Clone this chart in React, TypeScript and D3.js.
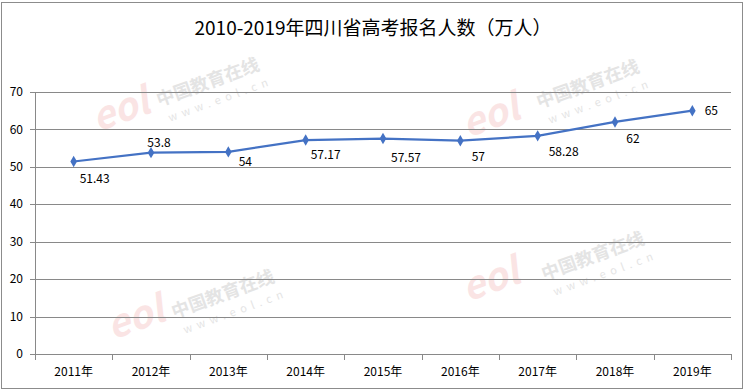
import * as d3 from 'd3'
import React from "react";

const years = ['2011年', '2012年', '2013年', '2014年', '2015年', '2016年', '2017年', '2018年', '2019年'];
const applicants = [51.43, 53.8, 54, 57.17, 57.57, 57, 58.28, 62, 65];
const yTicks = [0, 10, 20, 30, 40, 50, 60, 70];

// label offsets from each point, as placed in the original
const labelShift: [number, number][] = [
    [21, 17], [8, -10], [17, 10], [20, 15], [23, 19], [18, 16], [26, 16], [18, 17], [19, 0],
];

const W = 748;
const H = 391;
const FONT = '"Noto Sans CJK SC", "Noto Sans", sans-serif';

const App: React.FC = () => {
    const left = 35, right = 731, top = 92, bottom = 354;

    const x = d3.scaleBand<string>().domain(years).range([left, right]);
    const y = d3.scaleLinear().domain([0, 70]).range([bottom, top]);

    const line = d3.line<number>()
        .x((_, i) => (x(years[i]) as number) + x.bandwidth() / 2)
        .y(d => y(d));

    const diamond = d3.symbol().type(d3.symbolDiamond).size(38)();

    const marks = [
        { wx: 210, wy: 88, lx: 125, ly: 122 },
        { wx: 590, wy: 90, lx: 495, ly: 128 },
        { wx: 595, wy: 262, lx: 495, ly: 292 },
        { wx: 225, wy: 300, lx: 140, ly: 330 },
    ];

    return (
        <svg width={W} height={H} style={{ position: 'absolute', left: 0, top: 0, fontFamily: FONT }}>
            <rect x={0} y={0} width={W} height={H} fill="#fff" />
            <rect x={1.5} y={2.5} width={741} height={386} fill="none" stroke="#8c8c8c" strokeWidth={1} />

            {/* faint watermark */}
            {marks.map((m, i) => (
                <g key={i}>
                    <text x={m.lx} y={m.ly} fontSize={38} fontStyle="italic" fontWeight="bold" opacity={0.3}
                        fill="#f0a8a8" transform={`rotate(-20 ${m.lx} ${m.ly})`} textAnchor="middle">eol</text>
                    <text x={m.wx} y={m.wy} fontSize={18} fontWeight="bold" fill="#e4e4e4"
                        transform={`rotate(-20 ${m.wx} ${m.wy})`} textAnchor="middle">中国教育在线</text>
                    <text x={m.wx + 6} y={m.wy + 18} fontSize={11} fill="#e4e4e4" letterSpacing={5}
                        transform={`rotate(-20 ${m.wx} ${m.wy})`} textAnchor="middle">www.eol.cn</text>
                </g>
            ))}

            <text x={373} y={35} textAnchor="middle" fontSize={19} fill="#000">
                2010-2019年四川省高考报名人数（万人）
            </text>

            {yTicks.map(t => (
                <g key={t}>
                    <line x1={left} x2={right} y1={Math.round(y(t)) + 0.5} y2={Math.round(y(t)) + 0.5}
                        stroke="#898989" strokeWidth={1} />
                    <line x1={left - 5} x2={left} y1={Math.round(y(t)) + 0.5} y2={Math.round(y(t)) + 0.5}
                        stroke="#898989" />
                    <text x={23} y={y(t)} dy="0.35em" textAnchor="end" fontSize={12} fill="#000">{t}</text>
                </g>
            ))}
            <line x1={left + 0.5} x2={left + 0.5} y1={top} y2={bottom} stroke="#898989" />

            {years.map((yr, i) => (
                <g key={yr}>
                    <line x1={Math.round(x(yr) as number) + 0.5} x2={Math.round(x(yr) as number) + 0.5}
                        y1={bottom} y2={bottom + 6} stroke="#898989" />
                    <text x={(x(yr) as number) + x.bandwidth() / 2} y={372} dy="0.35em" textAnchor="middle"
                        fontSize={12} fill="#000">{yr}</text>
                    {i === years.length - 1 && (
                        <line x1={right + 0.5} x2={right + 0.5} y1={bottom} y2={bottom + 6} stroke="#898989" />
                    )}
                </g>
            ))}

            <path d={line(applicants) as string} fill="none" stroke="#4472C4" strokeWidth={2.25} />
            {applicants.map((v, i) => {
                const cx = (x(years[i]) as number) + x.bandwidth() / 2;
                const cy = y(v);
                return (
                    <g key={i}>
                        <path d={diamond as string} transform={`translate(${cx},${cy})`} fill="#4472C4" />
                        <text x={cx + labelShift[i][0]} y={cy + labelShift[i][1]} dy="0.35em"
                            textAnchor="middle" fontSize={12} fill="#000">{v}</text>
                    </g>
                );
            })}
        </svg>
    );
}

export default App;
